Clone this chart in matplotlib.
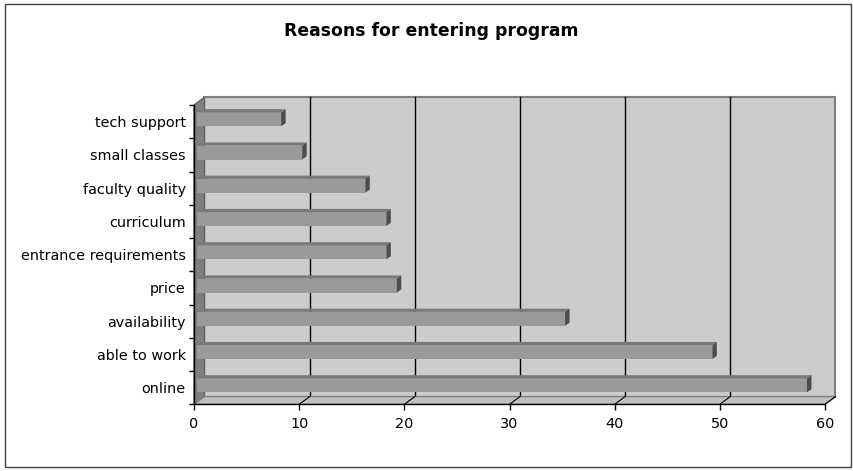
import matplotlib
matplotlib.use('Agg')
import matplotlib.pyplot as plt
from matplotlib.patches import Polygon
import numpy as np

# data, bottom to top as drawn
reasons = ['online', 'able to work', 'availability', 'price', 'entrance requirements',
           'curriculum', 'faculty quality', 'small classes', 'tech support']
counts = [58, 49, 35, 19, 18, 18, 16, 10, 8]
x_ticks = [0, 10, 20, 30, 40, 50, 60]

W, H = 854, 471
fig = plt.figure(figsize=(W / 100, H / 100), dpi=100)

# plot area in pixels (front plane of the 3d box)
x0_px, x1_px = 194, 825
ytop_px, ybot_px = 105, 404.3
ax = fig.add_axes([x0_px / W, 1 - ybot_px / H, (x1_px - x0_px) / W, (ybot_px - ytop_px) / H])
xmax = x_ticks[-1]
n = len(reasons)
ax.set_xlim(0, xmax)
ax.set_ylim(-0.5, n - 0.5)
ax.patch.set_visible(False)

px_x = (x1_px - x0_px) / xmax
px_y = (ybot_px - ytop_px) / n

# depth of the box, in data units
DX = 10.5 / px_x
DY = 7.7 / px_y
# bar placement / depth
BX = 3.0 / px_x
BY = 2.3 / px_y
bdx = 4.5 / px_x
bdy = 3.2 / px_y
bh = 0.42

lo, hi = -0.5, n - 0.5

def poly(pts, fc, ec, lw=1.0, z=1):
    ax.add_patch(Polygon(pts, closed=True, facecolor=fc, edgecolor=ec, linewidth=lw,
                         zorder=z, clip_on=False))

# back wall, side wall, floor
poly([(DX, lo + DY), (xmax + DX, lo + DY), (xmax + DX, hi + DY), (DX, hi + DY)],
     '#cccccc', '#808080', 1.5, 1)
poly([(0, lo), (DX, lo + DY), (DX, hi + DY), (0, hi)], '#808080', '#606060', 1.0, 2)
poly([(0, lo), (xmax, lo), (xmax + DX, lo + DY), (DX, lo + DY)], '#c0c0c0', '#808080', 1.0, 2)

# gridlines on wall and floor
for t in x_ticks[1:-1]:
    ax.plot([t + DX, t + DX], [lo + DY, hi + DY], color='black', lw=1.0, zorder=1.5, clip_on=False)
for t in x_ticks[1:]:
    ax.plot([t, t + DX], [lo, lo + DY], color='black', lw=0.8, zorder=2.5, clip_on=False)

# bars
ypos = np.arange(n) + BY
ax.barh(ypos, counts, left=BX, height=bh, color='#9a9a9a', edgecolor='none', zorder=4)
for y, v in zip(ypos, counts):
    top = y + bh / 2
    bot = y - bh / 2
    end = BX + v
    poly([(BX, top), (end, top), (end + bdx, top + bdy), (BX + bdx, top + bdy)],
         '#7a7a7a', 'none', 0, 4)
    poly([(end, bot), (end + bdx, bot + bdy), (end + bdx, top + bdy), (end, top)],
         '#4d4d4d', 'none', 0, 4)

# axes lines and ticks
for s in ['top', 'right']:
    ax.spines[s].set_visible(False)
for s in ['left', 'bottom']:
    ax.spines[s].set_color('black')
    ax.spines[s].set_linewidth(1.0)
    ax.spines[s].set_zorder(5)

ax.set_xticks(x_ticks)
ax.set_xticklabels([str(t) for t in x_ticks])
ax.set_yticks(np.arange(n))
ax.set_yticklabels(reasons)
ax.set_yticks(np.arange(n + 1) - 0.5, minor=True)
ax.tick_params(axis='x', length=4.3, width=1.0, pad=5, labelsize=10.4, colors='black')
ax.tick_params(axis='y', which='major', length=0, pad=6, labelsize=10.4)
ax.tick_params(axis='y', which='minor', length=3.6, width=1.0)

fig.text(431 / W, 1 - 31 / H, 'Reasons for entering program', ha='center', va='center',
         fontsize=12.4, fontweight='bold')

# outer chart border
fig.add_artist(plt.Rectangle((5 / W, 1 - 467 / H), 846 / W, 463 / H, transform=fig.transFigure,
                             fill=False, edgecolor='#404040', linewidth=1.0))

fig.savefig('out.png', dpi=100)
